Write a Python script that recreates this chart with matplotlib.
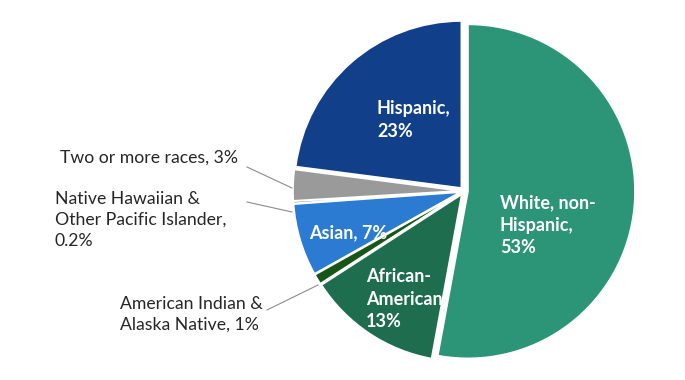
import matplotlib.pyplot as plt

# data (clockwise from 12 o'clock)
groups = ["White, non-Hispanic", "African-American", "American Indian & Alaska Native",
          "Asian", "Native Hawaiian & Other Pacific Islander", "Two or more races", "Hispanic"]
shares = [53, 13, 1, 7, 0.2, 3, 23]
colors = ["#2d9577", "#1e6d4f", "#185518", "#2a7bd1", "#4a4a4a", "#9a9a9a", "#123f8a"]

W, H = 685, 380
fig = plt.figure(figsize=(W / 100, H / 100), dpi=100)
ax = fig.add_axes([0, 0, 1, 1])

# work in pixel units, y measured from the top
cx, cy, R = 464, 191, 167
ax.pie(shares, colors=colors, startangle=90, counterclock=False,
       radius=R, center=(cx, H - cy), explode=[4] * len(shares),
       wedgeprops=dict(edgecolor="white", linewidth=1.2))
ax.set_xlim(0, W)
ax.set_ylim(0, H)
ax.set_aspect("equal")
ax.axis("off")

font = "Lato"

def txt(x, y, s, color, bold=False, size=13):
    ax.text(x, H - y, s, ha="left", va="center", color=color, fontsize=size,
            family=font, fontweight="bold" if bold else "normal", linespacing=1.38)

# labels inside the slices
txt(500, 225, "White, non-\nHispanic,\n53%", "white", True)
txt(366, 299, "African-\nAmerican,\n13%", "white", True)
txt(309, 233, "Asian, 7%", "white", True)
txt(377, 120, "Hispanic,\n23%", "white", True)

# labels outside with leader lines
dark = "#262626"
txt(60, 158, "Two or more races, 3%", dark, size=12.7)
txt(55, 220, "Native Hawaiian &\nOther Pacific Islander,\n0.2%", dark, size=12.7)
txt(120, 314, "American Indian &\nAlaska Native, 1%", dark, size=12.7)

leaders = [((247, 167), (292, 188)), ((247, 202), (292, 212)), ((267, 310), (318, 285))]
for (x0, y0), (x1, y1) in leaders:
    ax.plot([x0, x1], [H - y0, H - y1], color="#8c8c8c", lw=0.8)

fig.savefig("out.png", dpi=100)
